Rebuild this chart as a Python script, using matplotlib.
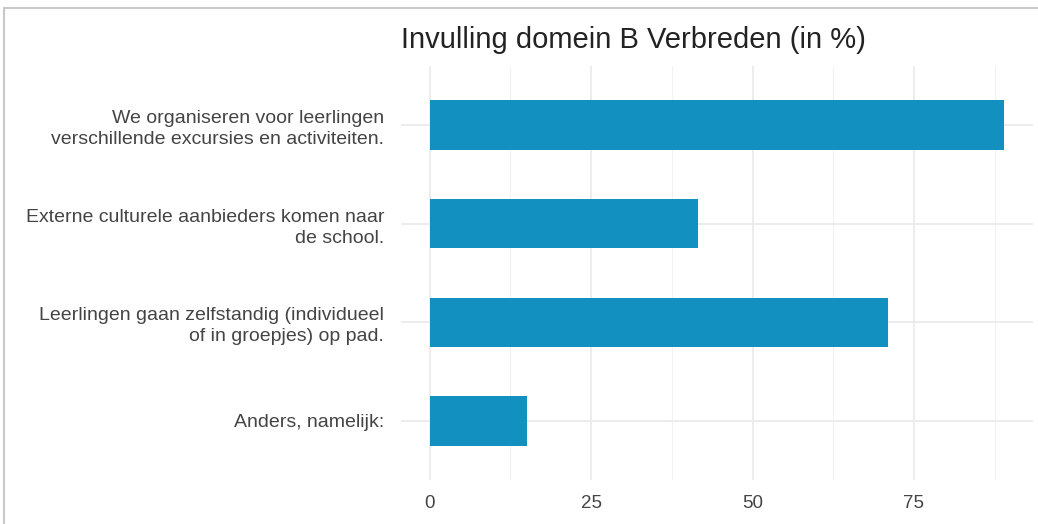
import numpy as np
import matplotlib.pyplot as plt
from matplotlib.patches import Rectangle

plt.rcParams['font.family'] = ['Liberation Sans', 'DejaVu Sans']

labels = ['We organiseren voor leerlingen\nverschillende excursies en activiteiten.',
          'Externe culturele aanbieders komen naar\nde school.',
          'Leerlingen gaan zelfstandig (individueel\nof in groepjes) op pad.',
          'Anders, namelijk:']
values = [89, 41.5, 71, 15]
ticks = [0, 25, 50, 75]

fig = plt.figure(figsize=(10.38, 5.24), dpi=100)
ax = fig.add_axes([401 / 1038, 1 - 480 / 524, (1033 - 401) / 1038, (480 - 66) / 524])

y = np.arange(len(labels))[::-1] + 1
ax.barh(y, values, height=0.5, color='#1290bf', zorder=2)

ax.set_xlim(-4.45, 93.45)
ax.set_ylim(0.4, 4.6)
ax.set_xticks(ticks)
ax.set_xticks([12.5, 37.5, 62.5, 87.5], minor=True)
ax.set_yticks(y)
ax.set_yticklabels(labels, fontsize=14, color='#444444', ha='right', linespacing=1.3)
ax.set_xticklabels([str(t) for t in ticks], fontsize=13.5, color='#444444')
ax.tick_params(axis='y', length=0, pad=12)
ax.tick_params(axis='x', length=0, pad=11)
ax.tick_params(axis='x', which='minor', length=0)
ax.grid(True, which='major', color='#ebebeb', linewidth=1.3, zorder=0)
ax.grid(True, which='minor', axis='x', color='#f2f2f2', linewidth=0.8, zorder=0)
for s in ax.spines.values():
    s.set_visible(False)

ax.set_title('Invulling domein B Verbreden (in %)', fontsize=21, loc='left',
             color='#222222', pad=13)

# frame of the screenshot
fig.add_artist(Rectangle((4 / 1038, -0.1), 1.2, 1 - 8 / 524 + 0.1, transform=fig.transFigure,
                         fill=False, edgecolor='#c8c8c8', linewidth=1.5))

fig.savefig('out.png', dpi=100)
